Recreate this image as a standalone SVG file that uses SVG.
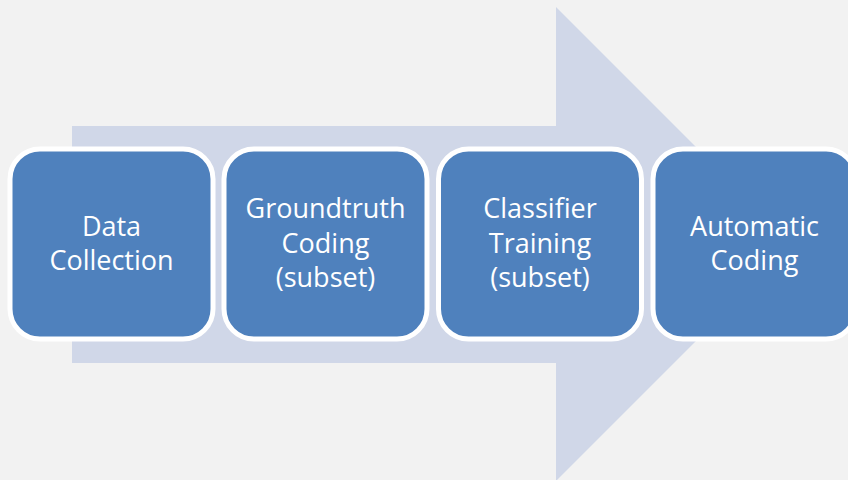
<svg xmlns="http://www.w3.org/2000/svg" width="848" height="480" viewBox="0 0 848 480">
<style>
.box{fill:#4f81bd;stroke:#ffffff;stroke-width:5}
.lbl{font-family:"Open Sans","Liberation Sans",sans-serif;font-size:27px;fill:#ffffff;text-anchor:middle}
</style>
<rect x="0" y="0" width="848" height="480" fill="#f2f2f2"/>
<g id="connectors">
<polygon points="72,126 556,126 556,7 793,244 556,481 556,363 72,363" fill="#d0d7e8"/>
</g>
<g id="n1">
<rect class="box" x="10" y="149" width="203" height="190" rx="30"/>
<text class="lbl" x="111.5" y="236">Data</text>
<text class="lbl" x="111.5" y="270">Collection</text>
</g>
<g id="n2">
<rect class="box" x="224" y="149" width="203" height="190" rx="30"/>
<text class="lbl" x="325.5" y="218">Groundtruth</text>
<text class="lbl" x="325.5" y="253">Coding</text>
<text class="lbl" x="325.5" y="287">(subset)</text>
</g>
<g id="n3">
<rect class="box" x="438.5" y="149" width="203" height="190" rx="30"/>
<text class="lbl" x="540" y="218">Classifier</text>
<text class="lbl" x="540" y="253">Training</text>
<text class="lbl" x="540" y="287">(subset)</text>
</g>
<g id="n4">
<rect class="box" x="653" y="149" width="203" height="190" rx="30"/>
<text class="lbl" x="754.5" y="236">Automatic</text>
<text class="lbl" x="754.5" y="270">Coding</text>
</g>
</svg>
